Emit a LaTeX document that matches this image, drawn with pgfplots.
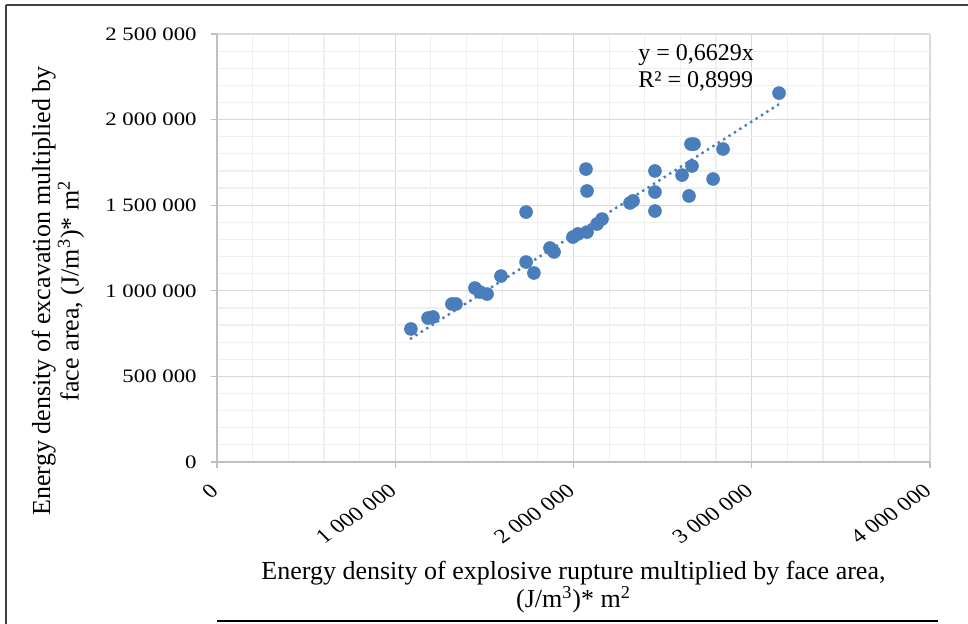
\documentclass[border=0pt]{standalone}
\usepackage{pgfplots}
\pgfplotsset{compat=1.18}
\usepackage{fontspec}
\setmainfont{Liberation Serif}
\newfontfamily\tickfont{Liberation Serif}[FakeStretch=1.2]
\definecolor{pt}{HTML}{4A7EBB}
\definecolor{majgrid}{HTML}{D9D9D9}
\definecolor{mingrid}{HTML}{EFEFEF}
\definecolor{axgray}{HTML}{BFBFBF}
\begin{document}
\begin{tikzpicture}
\begin{axis}[
  name=ax,
  scale only axis,
  width=356.5pt, height=214pt,
  xmin=0, xmax=4000000, ymin=0, ymax=2500000,
  xtick={0,1000000,2000000,3000000,4000000},
  ytick={0,500000,1000000,1500000,2000000,2500000},
  minor x tick num=4, minor y tick num=4,
  grid=both,
  major grid style={majgrid, line width=0.6pt},
  minor grid style={mingrid, line width=0.6pt},
  axis line style={axgray, line width=0.6pt},
  axis lines*=left,
  tick style={axgray, line width=0.6pt},
  major tick length=3pt, minor tick length=0pt,
  tick align=outside,
  xtick pos=bottom, ytick pos=left,
  scaled ticks=false,
  /pgf/number format/assume math mode=true,
  /pgf/number format/1000 sep={\ },
  /pgf/number format/fixed,
  yticklabel style={font=\tickfont\fontsize{9.5}{11}\selectfont, black, inner sep=7pt},
  xticklabel={\scalebox{1.2}[1]{\rotatebox{40}{\pgfmathprintnumber{\tick}}}},
  xticklabel style={font=\fontsize{10}{11}\selectfont, black, anchor=north east, inner sep=0pt, xshift=1.5pt, yshift=-7.25pt},
  xlabel={Energy density of explosive rupture multiplied by face area,\\(J/m\textsuperscript{3})* m\textsuperscript{2}},
  xlabel style={align=center, font=\fontsize{13}{12}\selectfont, at={(rel axis cs:0.5,-0.292)}, anchor=center},
  ylabel={Energy density of excavation multiplied by\\face area, (J/m\textsuperscript{3})* m\textsuperscript{2}},
  ylabel style={align=center, font=\fontsize{13}{12}\selectfont, at={(rel axis cs:-0.223,0.40)}, anchor=center},
  clip=false,
]
\addplot[only marks, mark=*, mark size=3.2pt, pt, mark options={draw=pt, fill=pt}] coordinates {
(1088000,777000) (1184000,841000) (1212000,847000) (1318000,923000)
(1341000,923000) (1447000,1016000) (1475000,993000) (1515000,981000)
(1593000,1086000) (1734000,1168000) (1778000,1104000) (1734000,1460000)
(1868000,1250000) (1891000,1227000) (1997000,1314000) (2025000,1332000)
(2076000,1343000) (2132000,1390000) (2160000,1419000) (2070000,1711000)
(2076000,1583000) (2317000,1513000) (2334000,1525000) (2457000,1700000)
(2457000,1577000) (2457000,1466000) (2609000,1676000) (2648000,1554000)
(2665000,1729000) (2659000,1857000) (2676000,1857000) (2783000,1653000)
(2839000,1828000) (3153000,2155000)
};
\addplot[pt, line width=1.2pt, dotted, no marks] coordinates {(1083000,717900) (3153000,2090100)};
\node[anchor=west, align=left, font=\fontsize{12}{13.5}\selectfont, inner sep=0pt] at (axis cs:2362000,2300000) {y = 0,6629x\\R² = 0,8999};
\end{axis}
\begin{scope}[x=0.5pt, y=0.5pt, shift={(ax.south west)}]
\path[use as bounding box] (-217,-162) rectangle (751,462);
\draw[line width=1pt, black!75] (-211,457) -- (751,457);
\draw[line width=1pt, black!75] (-211,457) -- (-211,-162);
\draw[line width=1pt, black] (0,-159) -- (721,-159);
\end{scope}
\end{tikzpicture}
\end{document}
